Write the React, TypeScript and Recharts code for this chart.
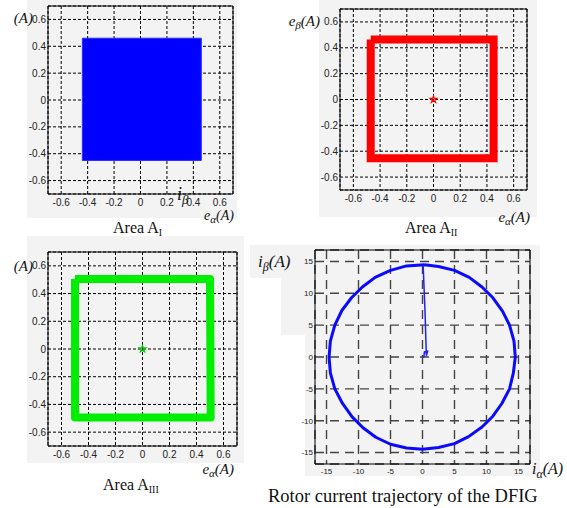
import React from "react";
import {
  ComposedChart,
  XAxis,
  YAxis,
  CartesianGrid,
  Line,
  Scatter,
  ReferenceArea,
  Symbols,
} from "recharts";

// axes shared by the three e-plane plots
const E_TICKS = [-0.6, -0.4, -0.2, 0, 0.2, 0.4, 0.6];
const E_DOMAIN = [-0.7, 0.7];

// rotor current plot axes
const I_TICKS = [-15, -10, -5, 0, 5, 10, 15];
const I_DOMAIN = [-16.8, 16.8];

// area I: densely filled trajectory region
const AREA1_X = [-0.44, 0.46];
const AREA1_Y = [-0.45, 0.46];

// area II: square trajectory
const AREA2_PATH = [
  { x: -0.47, y: 0.465 },
  { x: 0.45, y: 0.465 },
  { x: 0.45, y: -0.455 },
  { x: -0.47, y: -0.455 },
  { x: -0.47, y: 0.465 },
];

// area III: square trajectory
const AREA3_PATH = [
  { x: -0.5, y: 0.505 },
  { x: 0.5, y: 0.505 },
  { x: 0.505, y: -0.495 },
  { x: -0.5, y: -0.495 },
  { x: -0.5, y: 0.505 },
];

const ORIGIN = [{ x: 0, y: 0 }];

// rotor current circle, clockwise from the top
const ROTOR_CIRCLE = [
  { x: 0.3, y: 14.5 },
  { x: 2.5, y: 14.2 },
  { x: 5.0, y: 13.6 },
  { x: 7.3, y: 12.5 },
  { x: 9.3, y: 11.0 },
  { x: 11.0, y: 9.3 },
  { x: 12.5, y: 7.2 },
  { x: 13.6, y: 5.0 },
  { x: 14.3, y: 2.5 },
  { x: 14.5, y: 0 },
  { x: 14.2, y: -2.5 },
  { x: 13.6, y: -5.0 },
  { x: 12.4, y: -7.3 },
  { x: 11.0, y: -9.3 },
  { x: 9.3, y: -11.0 },
  { x: 7.2, y: -12.5 },
  { x: 5.0, y: -13.6 },
  { x: 2.5, y: -14.2 },
  { x: 0, y: -14.5 },
  { x: -2.5, y: -14.3 },
  { x: -5.0, y: -13.7 },
  { x: -7.3, y: -12.6 },
  { x: -9.3, y: -11.1 },
  { x: -11.0, y: -9.4 },
  { x: -12.5, y: -7.3 },
  { x: -13.7, y: -5.0 },
  { x: -14.4, y: -2.5 },
  { x: -14.6, y: 0 },
  { x: -14.4, y: 2.5 },
  { x: -13.7, y: 5.0 },
  { x: -12.6, y: 7.3 },
  { x: -11.1, y: 9.3 },
  { x: -9.4, y: 11.0 },
  { x: -7.4, y: 12.5 },
  { x: -5.0, y: 13.6 },
  { x: -2.5, y: 14.3 },
  { x: 0.3, y: 14.5 },
];

// start-up transient from the origin to the circle
const ROTOR_TRANSIENT = [
  { x: 0.2, y: -0.1 },
  { x: 0.3, y: 0.8 },
  { x: 0.8, y: 0.9 },
  { x: 0.6, y: 0.2 },
  { x: 0.4, y: 7.0 },
  { x: 0.1, y: 14.4 },
];

const SANS = "'Liberation Sans', Arial, sans-serif";
const SERIF = "'Liberation Serif', 'Times New Roman', serif";
const BG = "#f3f3f3";

type PanelProps = {
  left: number;
  top: number;
  width: number;
  height: number;
  yWidth: number;
  xHeight: number;
  marginTop: number;
  marginRight: number;
  ticks: number[];
  domain: number[];
  fontSize: number;
  dash: string;
  gridColor: string;
  gridWidth: number;
  tickGap: number;
  children: React.ReactNode[];
};

function Panel(p: PanelProps) {
  const tick = { fontSize: p.fontSize, fill: "#222", fontFamily: SANS };
  return (
    <div style={{ position: "absolute", left: p.left, top: p.top }}>
      <ComposedChart
        width={p.width}
        height={p.height}
        margin={{ top: p.marginTop, right: p.marginRight, bottom: 0, left: 0 }}
      >
        <CartesianGrid
          stroke={p.gridColor}
          strokeWidth={p.gridWidth}
          strokeDasharray={p.dash}
        />
        <XAxis
          type="number"
          dataKey="x"
          domain={p.domain}
          ticks={p.ticks}
          allowDataOverflow
          height={p.xHeight}
          axisLine={false}
          tickLine={false}
          tickSize={0}
          tickMargin={p.tickGap}
          tick={tick}
          interval={0}
        />
        <YAxis
          type="number"
          dataKey="y"
          domain={p.domain}
          ticks={p.ticks}
          allowDataOverflow
          width={p.yWidth}
          axisLine={false}
          tickLine={false}
          tickSize={0}
          tickMargin={2}
          tick={tick}
          interval={0}
        />
        {p.children}
        <ReferenceArea
          x1={p.domain[0]}
          x2={p.domain[1]}
          y1={p.domain[0]}
          y2={p.domain[1]}
          fill="none"
          stroke="#000"
          strokeWidth={1}
          strokeOpacity={1}
        />
      </ComposedChart>
    </div>
  );
}

const originMarker = (color: string) => (props: any) =>
  (
    <Symbols
      cx={props.cx}
      cy={props.cy}
      type="star"
      size={14}
      fill="none"
      stroke={color}
      strokeWidth={1.2}
    />
  );

function Label({
  left,
  top,
  size,
  children,
  italic,
  align,
}: {
  left: number;
  top: number;
  size: number;
  children: React.ReactNode;
  italic?: boolean;
  align?: "right";
}) {
  return (
    <div
      style={{
        position: "absolute",
        left: align === "right" ? undefined : left,
        right: align === "right" ? 567 - left : undefined,
        top,
        fontFamily: SERIF,
        fontSize: size,
        fontStyle: italic ? "italic" : "normal",
        lineHeight: 1,
        whiteSpace: "nowrap",
        color: "#111",
      }}
    >
      {children}
    </div>
  );
}

const sub = (s: string, size = 10) => (
  <span style={{ fontSize: size, verticalAlign: "-0.3em" }}>{s}</span>
);

export default function App() {
  const ePanel = {
    ticks: E_TICKS,
    domain: E_DOMAIN,
    fontSize: 10,
    dash: "3 2",
    gridColor: "#000",
    gridWidth: 1,
    tickGap: 5,
  };
  return (
    <div
      style={{
        position: "absolute",
        left: 0,
        top: 0,
        width: 567,
        height: 508,
        background: "#fff",
        overflow: "hidden",
      }}
    >
      {/* figure backgrounds */}
      <div style={{ position: "absolute", left: 27, top: 0, width: 210, height: 218, background: BG }} />
      <div style={{ position: "absolute", left: 319, top: 0, width: 218, height: 217, background: BG }} />
      <div style={{ position: "absolute", left: 27, top: 236, width: 217, height: 227, background: BG }} />
      <div style={{ position: "absolute", left: 305, top: 245, width: 235, height: 231, background: BG }} />
      <div style={{ position: "absolute", left: 250, top: 245, width: 55, height: 33, background: BG }} />
      <div style={{ position: "absolute", left: 281, top: 278, width: 24, height: 57, background: BG }} />

      {/* area I */}
      <Panel left={0} top={0} width={240} height={215} yWidth={48} xHeight={21} marginTop={6} marginRight={7} {...ePanel}>
        {[
          <ReferenceArea
            key="fill"
            x1={AREA1_X[0]}
            x2={AREA1_X[1]}
            y1={AREA1_Y[0]}
            y2={AREA1_Y[1]}
            fill="#0000ff"
            fillOpacity={1}
            stroke="#2a2aff"
            strokeWidth={1}
          />,
        ]}
      </Panel>

      {/* area II */}
      <Panel left={290} top={0} width={245} height={215} yWidth={50} xHeight={25} marginTop={9} marginRight={8} {...ePanel}>
        {[
          <Line
            key="sq"
            data={AREA2_PATH}
            dataKey="y"
            stroke="#ff0000"
            strokeWidth={8}
            strokeLinejoin="miter"
            dot={false}
            isAnimationActive={false}
          />,
          <Scatter
            key="o"
            data={ORIGIN}
            dataKey="y"
            shape={originMarker("#ff0000")}
            isAnimationActive={false}
          />,
        ]}
      </Panel>

      {/* area III */}
      <Panel left={0} top={245} width={245} height={225} yWidth={48} xHeight={24} marginTop={7} marginRight={8} {...ePanel}>
        {[
          <Line
            key="sq"
            data={AREA3_PATH}
            dataKey="y"
            stroke="#00ee00"
            strokeWidth={8}
            strokeLinejoin="round"
            dot={false}
            isAnimationActive={false}
          />,
          <Scatter
            key="o"
            data={ORIGIN}
            dataKey="y"
            shape={originMarker("#00cc00")}
            isAnimationActive={false}
          />,
        ]}
      </Panel>

      {/* rotor current */}
      <Panel
        left={290}
        top={245}
        width={245}
        height={240}
        yWidth={25}
        xHeight={21}
        marginTop={5}
        marginRight={5}
        ticks={I_TICKS}
        domain={I_DOMAIN}
        fontSize={8}
        dash="9 6"
        gridColor="#444"
        gridWidth={1.4}
        tickGap={4}
      >
        {[
          <Line
            key="circle"
            data={ROTOR_CIRCLE}
            dataKey="y"
            stroke="#0a0aff"
            strokeWidth={3}
            strokeLinejoin="round"
            dot={false}
            isAnimationActive={false}
          />,
          <Line
            key="transient"
            data={ROTOR_TRANSIENT}
            dataKey="y"
            stroke="#2020ff"
            strokeWidth={1.5}
            dot={false}
            isAnimationActive={false}
          />,
        ]}
      </Panel>

      {/* axis names */}
      <Label left={33} top={11} size={15} italic align="right">(A)</Label>
      <Label left={177} top={185} size={18} italic>i{sub("β", 13)}</Label>
      <Label left={234} top={209} size={14} italic align="right">e{sub("α", 11)}(A)</Label>
      <Label left={320} top={14} size={15} italic align="right">e{sub("β", 11)}(A)</Label>
      <Label left={530} top={210} size={15} italic align="right">e{sub("α", 11)}(A)</Label>
      <Label left={33} top={259} size={15} italic align="right">(A)</Label>
      <Label left={234} top={462} size={15} italic align="right">e{sub("α", 11)}(A)</Label>
      <Label left={258} top={253} size={17} italic>i{sub("β", 12)}(A)</Label>
      <Label left={532} top={461} size={16} italic>i{sub("α", 12)}(A)</Label>

      {/* captions */}
      <Label left={113} top={220} size={16}>Area A{sub("I")}</Label>
      <Label left={405} top={220} size={16}>Area A{sub("II")}</Label>
      <Label left={103} top={477} size={16}>Area A{sub("III")}</Label>
      <Label left={268} top={487} size={18.5}>Rotor current trajectory of the DFIG</Label>
    </div>
  );
}
